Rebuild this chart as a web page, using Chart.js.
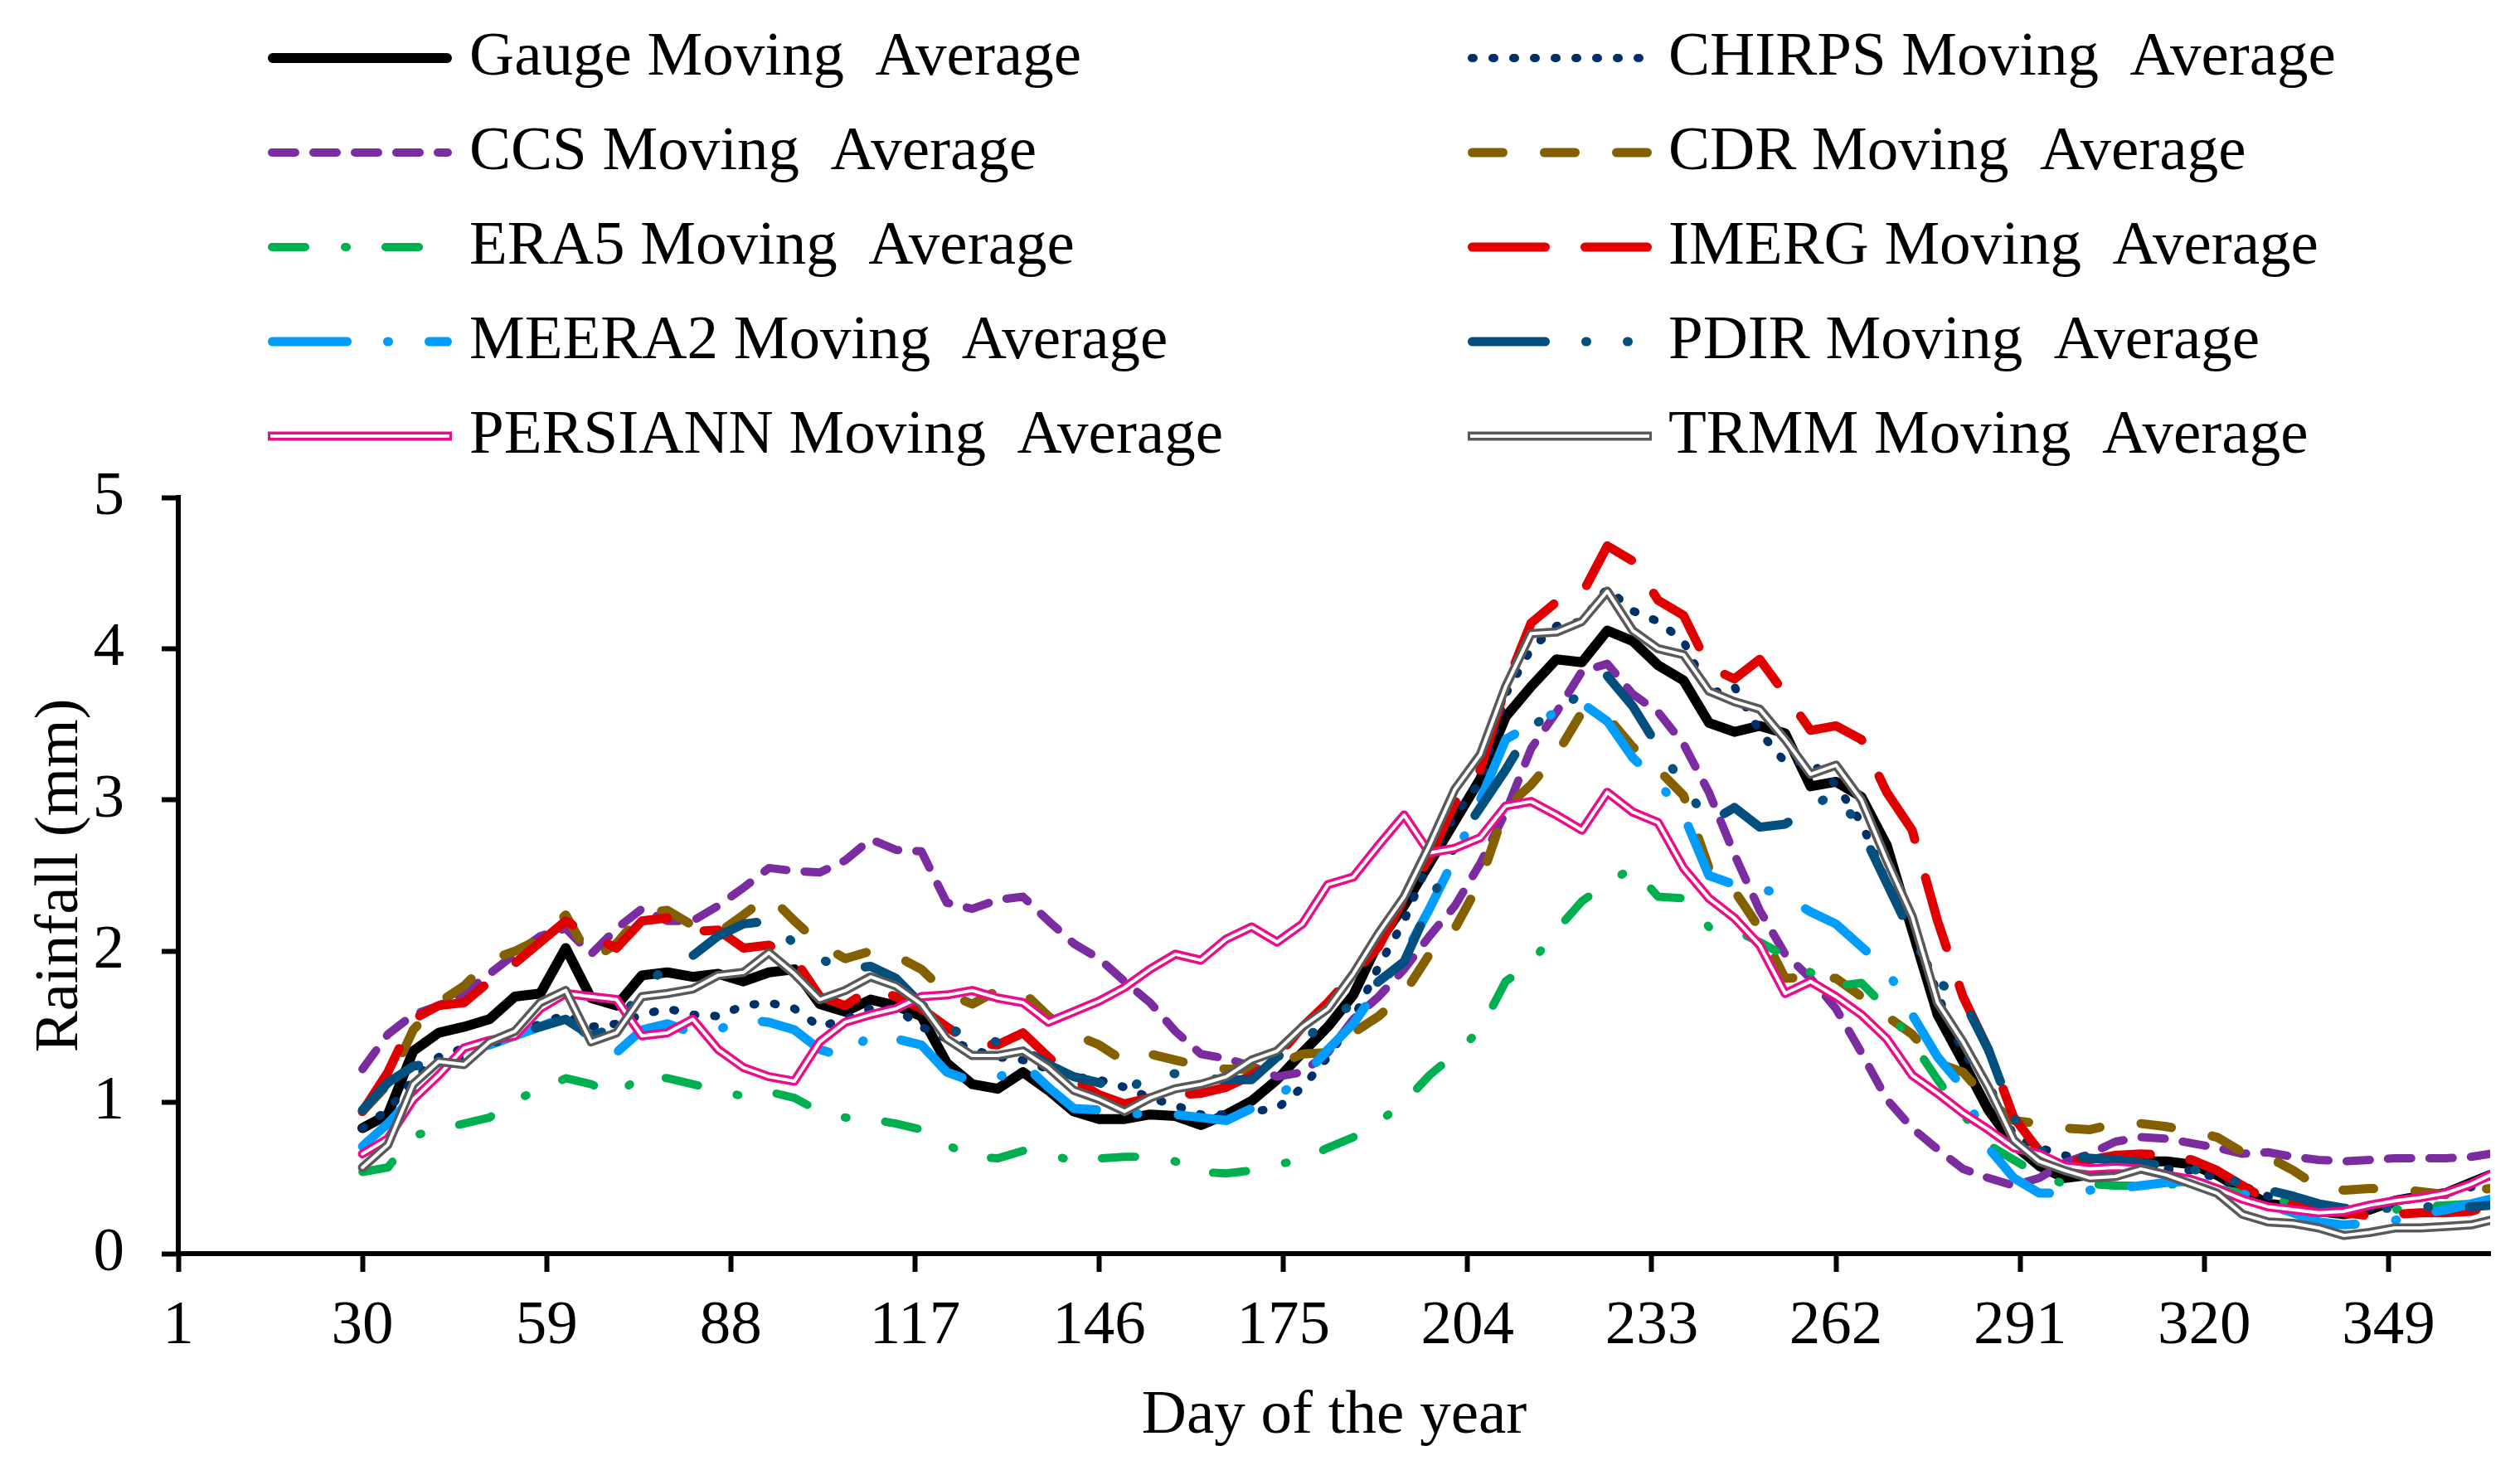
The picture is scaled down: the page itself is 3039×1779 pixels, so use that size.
<!DOCTYPE html>
<html>
<head>
<meta charset="utf-8">
<script src="https://cdn.jsdelivr.net/npm/chart.js@4.4.1/dist/chart.umd.min.js"></script>
<style>
  html, body { margin: 0; padding: 0; background: #ffffff; }
  #wrap { width: 3039px; height: 1779px; position: relative; }
</style>
</head>
<body>
<div id="wrap"><canvas id="chart" width="3039" height="1779"></canvas></div>
<script>
// ---------------- DATA ----------------
const days = [30,34,38,42,46,50,54,58,62,66,
  70,74,78,82,86,90,94,98,102,106,
  110,114,118,122,126,130,134,138,142,146,
  150,154,158,162,166,170,174,178,182,186,
  190,194,198,202,206,210,214,218,222,226,
  230,234,238,242,246,250,254,258,262,266,
  270,274,278,282,286,290,294,298,302,306,
  310,314,318,322,326,330,334,338,342,346,
  350,354,358,362,365];

const tickDays = [1,30,59,88,117,146,175,204,233,262,291,320,349];
const yTicks = [0,1,2,3,4,5];

const seriesNames = [
  'Gauge Moving  Average', 'CHIRPS Moving  Average',
  'CCS Moving  Average', 'CDR Moving  Average',
  'ERA5 Moving  Average', 'IMERG Moving  Average',
  'MEERA2 Moving  Average', 'PDIR Moving  Average',
  'PERSIANN Moving  Average', 'TRMM Moving  Average'
];

const gauge = [0.83,0.92,1.34,1.46,1.50,1.55,1.70,1.72,2.02,1.69,
  1.64,1.84,1.86,1.83,1.85,1.80,1.86,1.88,1.65,1.60,
  1.68,1.64,1.57,1.26,1.12,1.09,1.20,1.08,0.94,0.89,
  0.89,0.92,0.91,0.85,0.92,1.01,1.15,1.33,1.50,1.71,
  2.06,2.30,2.58,2.86,3.14,3.55,3.75,3.93,3.91,4.12,
  4.05,3.89,3.79,3.51,3.45,3.49,3.44,3.09,3.12,3.02,
  2.70,2.14,1.58,1.27,0.95,0.72,0.58,0.50,0.52,0.56,
  0.61,0.61,0.59,0.52,0.42,0.33,0.31,0.28,0.26,0.29,
  0.35,0.38,0.40,0.47,0.52];

const chirps = [0.83,0.95,1.15,1.30,1.36,1.38,1.45,1.52,1.58,1.50,
  1.52,1.58,1.62,1.58,1.57,1.64,1.66,1.62,1.50,1.55,
  1.62,1.62,1.50,1.42,1.35,1.30,1.28,1.22,1.17,1.15,
  1.10,1.03,0.98,0.92,0.92,0.94,0.96,1.10,1.30,1.55,
  1.90,2.20,2.60,2.90,3.12,3.70,4.00,4.15,4.18,4.40,
  4.25,4.18,4.05,3.70,3.75,3.45,3.25,3.25,3.10,2.85,
  2.45,2.22,1.71,1.33,1.12,0.78,0.70,0.65,0.61,0.60,
  0.58,0.56,0.55,0.50,0.45,0.38,0.33,0.32,0.28,0.30,
  0.33,0.38,0.40,0.44,0.46];

const ccs = [1.22,1.45,1.58,1.64,1.72,1.85,1.98,2.10,2.15,1.98,
  2.15,2.28,2.20,2.20,2.30,2.42,2.55,2.53,2.52,2.60,
  2.74,2.67,2.66,2.32,2.28,2.34,2.36,2.20,2.05,1.95,
  1.80,1.66,1.47,1.32,1.29,1.24,1.17,1.20,1.33,1.55,
  1.70,1.88,2.10,2.30,2.58,2.92,3.34,3.58,3.85,3.90,
  3.70,3.58,3.37,3.05,2.64,2.27,1.98,1.82,1.62,1.33,
  1.02,0.83,0.69,0.56,0.50,0.45,0.50,0.60,0.66,0.74,
  0.77,0.76,0.73,0.70,0.66,0.67,0.64,0.62,0.61,0.62,
  0.63,0.63,0.63,0.64,0.66];

const cdr = [0.94,1.12,1.48,1.66,1.77,1.94,2.00,2.08,2.24,1.94,
  2.05,2.25,2.27,2.17,2.12,2.24,2.37,2.20,2.05,1.95,
  2.00,1.97,1.88,1.72,1.65,1.74,1.73,1.57,1.45,1.38,
  1.27,1.32,1.28,1.24,1.22,1.22,1.25,1.32,1.33,1.46,
  1.57,1.72,1.98,2.15,2.46,2.95,3.10,3.30,3.58,3.55,
  3.35,3.20,3.03,2.55,2.40,2.15,1.82,1.83,1.82,1.70,
  1.57,1.45,1.26,1.20,1.01,0.88,0.86,0.83,0.82,0.86,
  0.86,0.84,0.81,0.77,0.67,0.64,0.55,0.44,0.42,0.43,
  0.43,0.41,0.39,0.42,0.43];

const era5 = [0.54,0.57,0.78,0.82,0.86,0.90,1.02,1.08,1.16,1.12,
  1.05,1.18,1.16,1.12,1.08,1.04,1.07,1.03,0.94,0.90,
  0.89,0.86,0.82,0.72,0.64,0.63,0.68,0.66,0.61,0.63,
  0.64,0.64,0.61,0.54,0.53,0.55,0.59,0.62,0.70,0.77,
  0.87,1.00,1.18,1.32,1.48,1.80,1.92,2.14,2.33,2.45,
  2.55,2.36,2.35,2.16,2.14,2.06,1.97,1.86,1.77,1.79,
  1.62,1.40,1.15,0.92,0.72,0.62,0.52,0.46,0.46,0.45,
  0.45,0.46,0.45,0.43,0.40,0.36,0.34,0.31,0.29,0.28,
  0.29,0.31,0.32,0.33,0.34];

const imerg = [0.94,1.20,1.55,1.64,1.66,1.80,1.92,2.06,2.20,2.10,
  2.02,2.20,2.22,2.13,2.14,2.02,2.04,1.95,1.70,1.64,
  1.75,1.70,1.62,1.50,1.39,1.38,1.46,1.30,1.15,1.05,
  0.99,1.03,1.05,1.06,1.10,1.18,1.30,1.50,1.66,1.85,
  2.03,2.35,2.62,2.98,3.20,3.75,4.17,4.31,4.36,4.68,
  4.58,4.32,4.22,3.88,3.80,3.93,3.70,3.46,3.49,3.40,
  3.05,2.80,2.20,1.70,1.35,0.90,0.68,0.62,0.62,0.65,
  0.66,0.65,0.62,0.55,0.45,0.35,0.32,0.30,0.27,0.25,
  0.26,0.27,0.27,0.28,0.32];

const meera2 = [0.71,0.86,1.04,1.23,1.35,1.38,1.44,1.50,1.57,1.42,
  1.33,1.48,1.52,1.46,1.48,1.55,1.53,1.48,1.35,1.30,
  1.45,1.42,1.38,1.20,1.14,1.16,1.26,1.10,0.96,0.95,
  0.93,0.92,0.92,0.90,0.88,0.96,1.04,1.16,1.35,1.52,
  1.76,1.97,2.28,2.62,3.00,3.40,3.50,3.58,3.64,3.52,
  3.28,3.12,2.90,2.50,2.44,2.42,2.36,2.26,2.18,2.03,
  1.88,1.58,1.30,1.10,0.70,0.50,0.40,0.40,0.42,0.43,
  0.45,0.47,0.48,0.45,0.40,0.32,0.27,0.21,0.19,0.20,
  0.22,0.26,0.29,0.33,0.36];

const pdir = [0.95,1.13,1.24,1.26,1.30,1.38,1.45,1.50,1.55,1.44,
  1.50,1.75,1.90,1.97,2.10,2.18,2.20,2.05,1.95,1.88,
  1.90,1.82,1.65,1.50,1.42,1.40,1.35,1.25,1.17,1.13,
  1.06,1.19,1.19,1.16,1.15,1.15,1.30,1.40,1.55,1.65,
  1.80,1.93,2.30,2.70,2.95,3.20,3.48,3.60,3.70,3.82,
  3.62,3.35,3.10,2.85,2.95,2.82,2.84,2.95,3.05,2.80,
  2.45,2.10,1.80,1.68,1.35,0.90,0.68,0.66,0.63,0.62,
  0.60,0.58,0.56,0.52,0.46,0.42,0.38,0.33,0.30,0.30,
  0.30,0.31,0.31,0.31,0.32];

const persiann = [0.66,0.76,1.02,1.18,1.36,1.41,1.44,1.62,1.72,1.70,
  1.68,1.44,1.46,1.55,1.35,1.23,1.17,1.14,1.40,1.53,
  1.58,1.62,1.70,1.71,1.74,1.69,1.66,1.53,1.60,1.67,
  1.76,1.88,1.98,1.94,2.08,2.16,2.06,2.18,2.44,2.49,
  2.70,2.90,2.65,2.68,2.75,2.96,2.99,2.90,2.80,3.05,
  2.92,2.85,2.55,2.35,2.22,2.04,1.72,1.80,1.70,1.58,
  1.42,1.18,1.06,0.93,0.82,0.70,0.66,0.58,0.56,0.57,
  0.56,0.52,0.49,0.43,0.36,0.31,0.29,0.27,0.28,0.32,
  0.35,0.37,0.40,0.46,0.52];

const trmm = [0.57,0.72,1.12,1.27,1.25,1.40,1.47,1.66,1.74,1.40,
  1.46,1.70,1.72,1.75,1.84,1.86,1.99,1.85,1.68,1.74,
  1.83,1.77,1.65,1.42,1.31,1.31,1.34,1.23,1.08,1.02,
  0.94,1.03,1.09,1.12,1.17,1.28,1.34,1.50,1.62,1.85,
  2.12,2.36,2.70,3.07,3.30,3.75,4.10,4.11,4.18,4.38,
  4.12,4.00,3.96,3.72,3.65,3.60,3.40,3.17,3.23,3.00,
  2.60,2.23,1.66,1.40,1.10,0.75,0.61,0.55,0.50,0.51,
  0.56,0.52,0.46,0.40,0.26,0.21,0.20,0.17,0.12,0.14,
  0.17,0.17,0.18,0.19,0.22];

const seriesValues = [gauge, chirps, ccs, cdr, era5, imerg, meera2, pdir, persiann, trmm];

// ---------------- STYLES ----------------
const FONT = "'Liberation Serif', 'Times New Roman', Times, serif";
const styles = [
  { color: '#000000', width: 12, dash: [] },
  { color: '#00306A', width: 10, dash: [2, 23] },
  { color: '#7B2CA0', width: 10, dash: [28, 22] },
  { color: '#846000', width: 11, dash: [37, 50] },
  { color: '#00B050', width: 10, dash: [40, 48, 2, 47] },
  { color: '#E00000', width: 11, dash: [88, 48] },
  { color: '#009DFF', width: 11, dash: [90, 49, 1, 49] },
  { color: '#03507F', width: 11, dash: [88, 49, 1, 49, 1, 49] },
  { color: '#EB0C8C', width: 11, dash: [], inner: 4 },
  { color: '#595959', width: 11, dash: [], inner: 4 }
];

const datasets = seriesValues.map((vals, i) => ({
  label: seriesNames[i],
  data: vals.map((v, j) => ({ x: days[j], y: v })),
  borderColor: styles[i].color,
  backgroundColor: styles[i].color,
  borderWidth: styles[i].width,
  borderDash: styles[i].dash,
  borderCapStyle: 'round',
  borderJoinStyle: 'round',
  innerWidth: styles[i].inner || 0,
  pointRadius: 0,
  pointHoverRadius: 0,
  tension: 0,
  fill: false,
  order: seriesValues.length - i
}));

// white centre stroke for the double-line series
const doubleLinePlugin = {
  id: 'doubleLine',
  afterDatasetDraw(chart, args) {
    const ds = chart.data.datasets[args.index];
    if (!ds.innerWidth) return;
    const pts = args.meta.data;
    const ctx = chart.ctx;
    ctx.save();
    ctx.strokeStyle = '#ffffff';
    ctx.lineWidth = ds.innerWidth;
    ctx.lineJoin = 'round';
    ctx.lineCap = 'round';
    ctx.setLineDash([]);
    ctx.beginPath();
    pts.forEach((p, j) => { if (j === 0) ctx.moveTo(p.x, p.y); else ctx.lineTo(p.x, p.y); });
    ctx.stroke();
    ctx.restore();
  }
};

// two-column legend
const legendPlugin = {
  id: 'twoColLegend',
  afterDraw(chart) {
    const ctx = chart.ctx;
    const cols = [{ x0: 323, x1: 545, tx: 566 }, { x0: 1770, x1: 1992, tx: 2012 }];
    const rows = [70, 184, 298, 412, 526];
    chart.data.datasets.forEach((ds, i) => {
      const c = cols[i % 2];
      const y = rows[Math.floor(i / 2)];
      const hw = ds.borderWidth / 2;
      ctx.save();
      ctx.lineJoin = 'round';
      ctx.strokeStyle = ds.borderColor;
      ctx.lineWidth = ds.borderWidth;
      if (ds.innerWidth) {
        ctx.lineCap = 'butt';
        ctx.setLineDash([]);
        ctx.beginPath(); ctx.moveTo(c.x0, y); ctx.lineTo(c.x1, y); ctx.stroke();
        ctx.strokeStyle = '#ffffff';
        ctx.lineWidth = ds.innerWidth;
        ctx.beginPath(); ctx.moveTo(c.x0 + 3, y); ctx.lineTo(c.x1 - 3, y); ctx.stroke();
      } else {
        ctx.lineCap = 'round';
        ctx.setLineDash(ds.borderDash || []);
        ctx.beginPath(); ctx.moveTo(c.x0 + hw, y); ctx.lineTo(c.x1 - hw, y); ctx.stroke();
      }
      ctx.setLineDash([]);
      ctx.fillStyle = '#000000';
      ctx.font = '75px ' + FONT;
      ctx.textAlign = 'left';
      ctx.textBaseline = 'middle';
      ctx.fillText(ds.label, c.tx, y);
      ctx.restore();
    });
  }
};

Chart.defaults.font.family = FONT;
Chart.defaults.color = '#000000';

new Chart(document.getElementById('chart'), {
  type: 'line',
  data: { datasets },
  options: {
    responsive: false,
    maintainAspectRatio: false,
    devicePixelRatio: 1,
    animation: false,
    events: [],
    layout: { padding: { top: 600, right: 36, bottom: 0, left: 0 } },
    plugins: { legend: { display: false }, tooltip: { enabled: false }, title: { display: false } },
    scales: {
      x: {
        type: 'linear',
        min: 1,
        max: 365,
        bounds: 'data',
        afterBuildTicks(axis) { axis.ticks = tickDays.map(v => ({ value: v })); },
        afterFit(scale) { scale.height = 267; },
        ticks: { autoSkip: false, maxRotation: 0, padding: 21, color: '#000', font: { size: 75, family: FONT } },
        grid: { display: true, drawOnChartArea: false, drawTicks: true, tickLength: 22, tickWidth: 6, tickColor: '#000' },
        border: { display: true, color: '#000', width: 6 },
        title: { display: true, text: 'Day of the year', color: '#000', font: { size: 75, family: FONT }, padding: { top: 0, bottom: 26 } }
      },
      y: {
        type: 'linear',
        min: 0,
        max: 5,
        bounds: 'data',
        afterBuildTicks(axis) { axis.ticks = yTicks.map(v => ({ value: v })); },
        afterFit(scale) { scale.width = 215; },
        ticks: { padding: 45, color: '#000', font: { size: 75, family: FONT } },
        grid: { display: true, drawOnChartArea: false, drawTicks: true, tickLength: 20, tickWidth: 6, tickColor: '#000' },
        border: { display: true, color: '#000', width: 6 },
        title: { display: true, text: 'Rainfall (mm)', color: '#000', font: { size: 75, family: FONT }, padding: { top: 28, bottom: 0 } }
      }
    }
  },
  plugins: [doubleLinePlugin, legendPlugin]
});
</script>
</body>
</html>
